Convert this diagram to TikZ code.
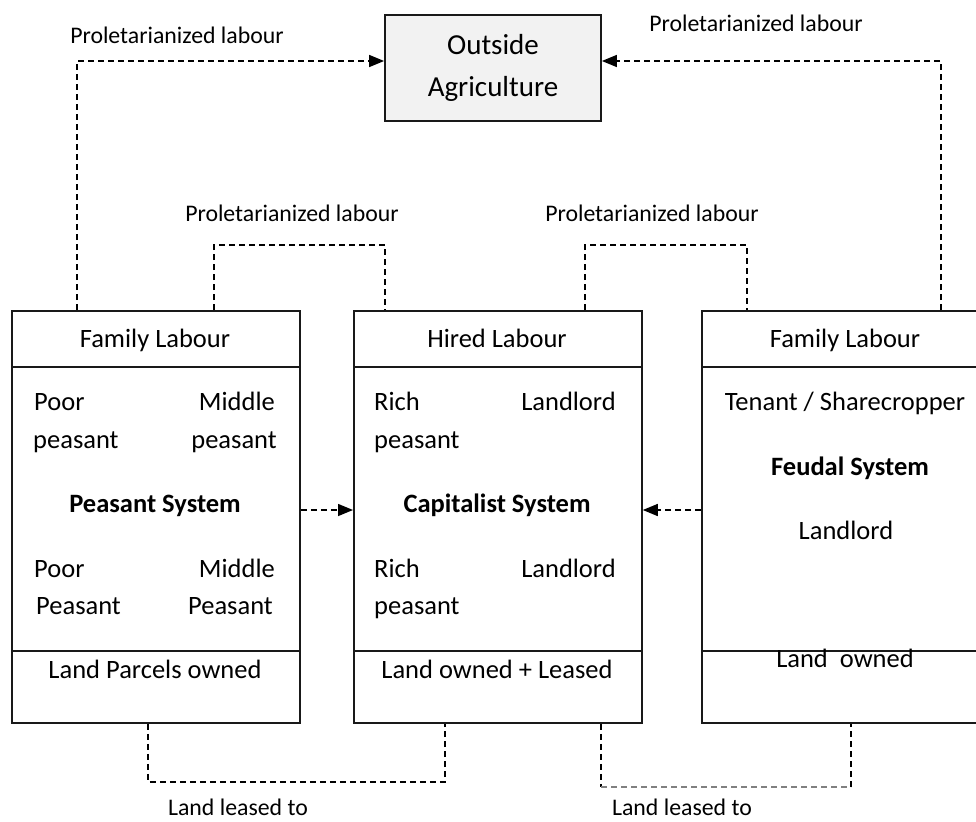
\documentclass[tikz,border=0pt]{standalone}
\usepackage{fontspec}
\setmainfont{Carlito}
\usetikzlibrary{arrows.meta,calc}
\begin{document}
\begin{tikzpicture}[x=1pt,y=-1pt,
  box/.style={draw=black!90, line width=1.8pt, inner sep=0pt, anchor=north west, minimum width=288pt, minimum height=412pt},
  sep/.style={draw=black!90, line width=1.8pt},
  lbl/.style={font=\fontsize{23.8}{28}\selectfont, inner sep=0pt, anchor=base},
  txt/.style={font=\fontsize{26.5}{32}\selectfont, inner sep=0pt, anchor=base},
  txtl/.style={txt, anchor=base west},
  txtr/.style={txt, anchor=base east},
  btxt/.style={font=\fontsize{26.5}{32}\selectfont\bfseries, inner sep=0pt, anchor=base},
  dline/.style={line width=1.5pt, dash pattern=on 6pt off 4pt},
  conn/.style={dline, -{Triangle[length=15pt,width=12pt]}}
]
\useasboundingbox (0,0) rectangle (976,821);
\clip (0,0) rectangle (976,821);

% Outside agriculture
\node[draw=black!90, fill=black!5, line width=1.8pt, minimum width=216pt, minimum height=106pt,
      align=center, font=\fontsize{29}{42}\selectfont] (out) at (493,68) {Outside\\Agriculture};

% boxes
\node[box] (lbox) at (11,310) {};
\node[box] (mbox) at (353,310) {};
\node[box] (rbox) at (701,310) {};

\foreach \b in {lbox,mbox,rbox}{
  \draw[sep] ($(\b.north west)+(0,57)$) -- ($(\b.north east)+(0,57)$);
  \draw[sep] ($(\b.north west)+(0,341)$) -- ($(\b.north east)+(0,341)$);
}

% left box texts
\node[txt] (lhead) at (155,347) {Family Labour};
\node[txtl] (l1) at (34,410) {Poor};
\node[txtr] (l2) at (275,410) {Middle};
\node[txtl] (l3) at (33,448) {peasant};
\node[txtr] (l4) at (277,448) {peasant};
\node[btxt] (lsys) at (155,512) {Peasant System};
\node[txtl] (l5) at (34,577) {Poor};
\node[txtr] (l6) at (275,577) {Middle};
\node[txtl] (l7) at (36,614) {Peasant};
\node[txtr] (l8) at (273,614) {Peasant};
\node[txt] (lfoot) at (155,678) {Land Parcels owned};

% middle box texts
\node[txt] (mhead) at (497,347) {Hired Labour};
\node[txtl] (m1t) at (374,410) {Rich};
\node[txtr] (m2t) at (616,410) {Landlord};
\node[txtl] (m3t) at (374,448) {peasant};
\node[btxt] (msys) at (497,512) {Capitalist System};
\node[txtl] (m5t) at (374,577) {Rich};
\node[txtr] (m6t) at (616,577) {Landlord};
\node[txtl] (m7t) at (374,614) {peasant};
\node[txt] (mfoot) at (497,678) {Land owned + Leased};

% right box texts
\node[txt] (rhead) at (845,347) {Family Labour};
\node[txt] (r1) at (845,410) {Tenant / Sharecropper};
\node[btxt] (rsys) at (850,475) {Feudal System};
\node[txt] (r2) at (846,539) {Landlord};
\node[txt] (rfoot) at (845,667) {Land\ \ owned};

% labels
\node[lbl] (pl1) at (177,44) {Proletarianized labour};
\node[lbl] (pl2) at (756,32) {Proletarianized labour};
\node[lbl] (pl3) at (292,221) {Proletarianized labour};
\node[lbl] (pl4) at (652,221) {Proletarianized labour};
\node[lbl] (ll1) at (238,815) {Land leased to};
\node[lbl] (ll2) at (682,815) {Land leased to};

% coordinates
\coordinate (c1) at (77,61);
\coordinate (c2) at (941,61);
\coordinate (k1) at (214,245);
\coordinate (k2) at (385,245);
\coordinate (k3) at (585,245);
\coordinate (k4) at (747,245);
\coordinate (b1) at (148,782);
\coordinate (b2) at (445,782);
\coordinate (b3) at (601,787);
\coordinate (b4) at (851,787);
\coordinate (h1) at (0,510);

% connectors to outside agriculture
\draw[conn] (lbox.north -| c1) -- (c1) -- (out.west |- c1);
\draw[conn] (rbox.north -| c2) -- (c2) -- (out.east |- c2);

% proletarianized labour links
\draw[dline] (lbox.north -| k1) -- (k1) -- (k2) -- (mbox.north -| k2);
\draw[dline] (mbox.north -| k3) -- (k3) -- (k4) -- (rbox.north -| k4);

% side arrows
\draw[conn] (lbox.east |- h1) -- (mbox.west |- h1);
\draw[conn] (rbox.west |- h1) -- (mbox.east |- h1);

% land leased links
\draw[dline] (lbox.south -| b1) -- (b1) -- (b2) -- (mbox.south -| b2);
\draw[dline] (mbox.south -| b3) -- (b3);
\draw[dline, black!50] (b3) -- (b4);
\draw[dline] (b4) -- (rbox.south -| b4);
\end{tikzpicture}
\end{document}
